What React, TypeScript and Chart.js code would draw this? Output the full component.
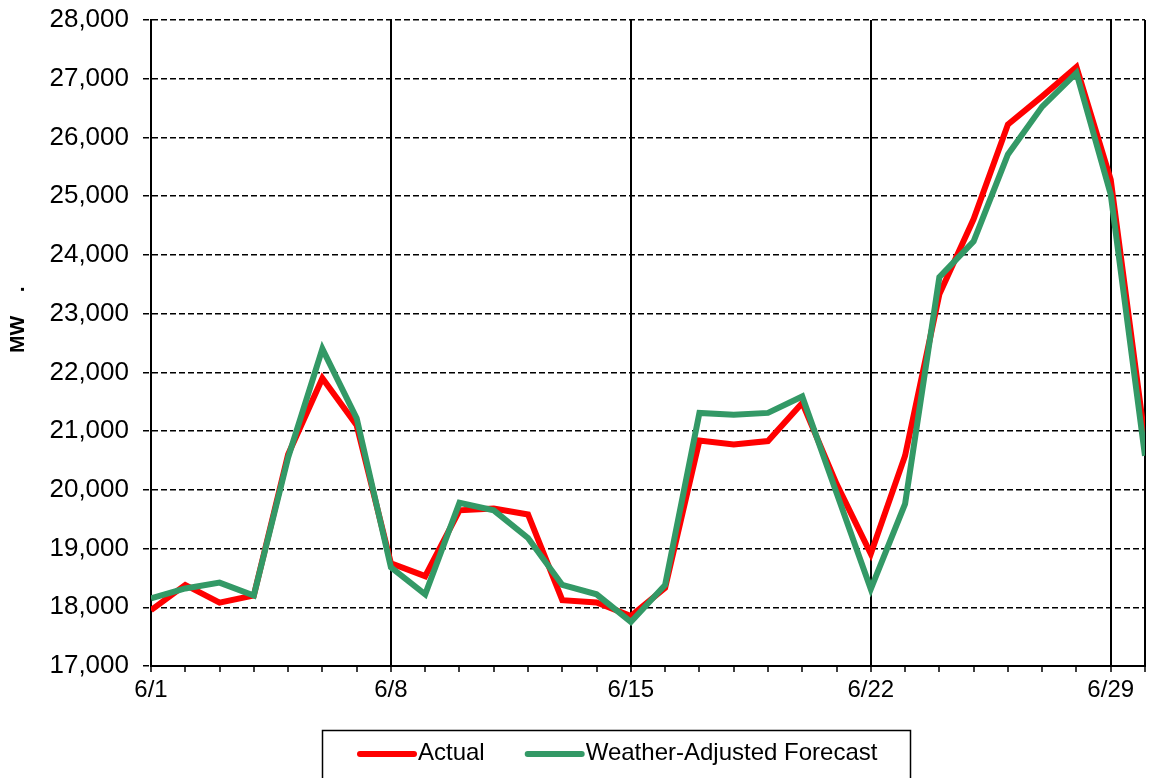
import React, { useEffect, useRef } from 'react';
import { Chart, registerables } from 'chart.js';

Chart.register(...registerables);

// ---- data ----
const days = [1, 2, 3, 4, 5, 6, 7, 8, 9, 10, 11, 12, 13, 14, 15, 16, 17, 18, 19, 20, 21, 22, 23, 24, 25, 26, 27, 28, 29, 30];
const actualMW = [17950, 18380, 18080, 18200, 20600, 21900, 21100, 18750, 18530, 19650, 19680, 19580, 18120, 18080, 17850, 18330, 20840, 20770, 20830, 21480, 20100, 18910, 20580, 23330, 24610, 26220, 26700, 27200, 25280, 20850];
const forecastMW = [18150, 18320, 18420, 18200, 20550, 22400, 21220, 18680, 18220, 19780, 19650, 19180, 18380, 18220, 17750, 18380, 21310, 21280, 21310, 21590, 19950, 18310, 19760, 23620, 24230, 25710, 26525, 27100, 25030, 20580];
const majorDays = [1, 8, 15, 22, 29, 30];
const labeledDays = [1, 8, 15, 22, 29];
const monthPrefix = '6/';
const seriesNames = ['Actual', 'Weather-Adjusted Forecast'];
const yMin = 17000;
const yMax = 28000;
const yStep = 1000;
const yTitle = '        MW    .';

const FONT = "'Liberation Sans', Arial, Helvetica, sans-serif";

const legendPlugin = {
  id: 'boxedLegend',
  afterDraw(chart: any) {
    const ctx = chart.ctx;
    ctx.save();
    ctx.strokeStyle = '#000';
    ctx.lineWidth = 1.5;
    ctx.strokeRect(322.5, 730.5, 588, 60);
    ctx.font = `24px ${FONT}`;
    ctx.textBaseline = 'middle';
    ctx.textAlign = 'left';
    let x = 358;
    const y = 753;
    chart.data.datasets.forEach((ds: any) => {
      ctx.strokeStyle = ds.borderColor;
      ctx.lineWidth = 6;
      ctx.lineCap = 'round';
      ctx.beginPath();
      ctx.moveTo(x + 2, y + 1);
      ctx.lineTo(x + 56, y + 1);
      ctx.stroke();
      ctx.fillStyle = '#000';
      ctx.fillText(ds.label, x + 60, y);
      const tw = ctx.measureText(ds.label).width;
      x = x + 60 + tw + 41;
    });
    ctx.restore();
  },
};

export default function App() {
  const canvasRef = useRef<HTMLCanvasElement | null>(null);

  useEffect(() => {
    if (!canvasRef.current) return;
    Chart.defaults.font.family = FONT;
    const chart = new Chart(canvasRef.current, {
      type: 'line',
      data: {
        datasets: [
          {
            label: seriesNames[0],
            data: days.map((d, i) => ({ x: d, y: actualMW[i] })),
            borderColor: '#FF0000',
            backgroundColor: '#FF0000',
            borderWidth: 6,
            pointRadius: 0,
            tension: 0,
            order: 1,
            borderJoinStyle: 'miter',
          },
          {
            label: seriesNames[1],
            data: days.map((d, i) => ({ x: d, y: forecastMW[i] })),
            borderColor: '#339966',
            backgroundColor: '#339966',
            borderWidth: 6,
            pointRadius: 0,
            tension: 0,
            order: 0,
            borderJoinStyle: 'miter',
          },
        ],
      },
      options: {
        animation: false,
        responsive: true,
        maintainAspectRatio: false,
        layout: { padding: { top: 20, right: 5, left: 0, bottom: 0 } },
        plugins: {
          legend: { display: false },
          tooltip: { enabled: false },
        },
        scales: {
          x: {
            type: 'linear',
            min: 1,
            max: 30,
            afterFit: (scale: any) => {
              scale.height = 112;
              scale.paddingLeft = 0;
              scale.paddingRight = 0;
            },
            ticks: {
              stepSize: 1,
              autoSkip: false,
              maxRotation: 0,
              padding: 4,
              color: '#000',
              font: { size: 24 },
              callback: (v: any) => (labeledDays.includes(Number(v)) ? monthPrefix + v : ''),
            },
            grid: {
              color: (c: any) => (c.tick && majorDays.includes(c.tick.value) ? '#000' : 'rgba(0,0,0,0)'),
              lineWidth: 2,
              tickColor: '#000',
              tickWidth: 1.5,
              tickLength: 6,
            },
            border: { display: true, color: '#000', width: 2 },
          },
          y: {
            min: yMin,
            max: yMax,
            afterFit: (scale: any) => {
              scale.width = 151;
              scale.paddingTop = 0;
              scale.paddingBottom = 0;
            },
            ticks: {
              stepSize: yStep,
              color: '#000',
              padding: 14,
              font: { size: 26 },
              callback: (v: any) => Number(v).toLocaleString('en-US'),
            },
            grid: {
              color: '#000',
              lineWidth: 1.5,
              tickColor: '#000',
              tickLength: 8,
              tickBorderDash: [6, 3],
            },
            border: { display: true, color: '#000', width: 2, dash: [6, 3] },
            title: {
              display: true,
              text: yTitle,
              color: '#000',
              font: { size: 21, weight: 'bold' },
              padding: { top: 6, bottom: 0 },
            },
          },
        },
      },
      plugins: [legendPlugin],
    });
    return () => chart.destroy();
  }, []);

  return (
    <div style={{ position: 'fixed', left: 0, top: 0, width: 1150, height: 778, background: '#fff' }}>
      <canvas ref={canvasRef} />
    </div>
  );
}
